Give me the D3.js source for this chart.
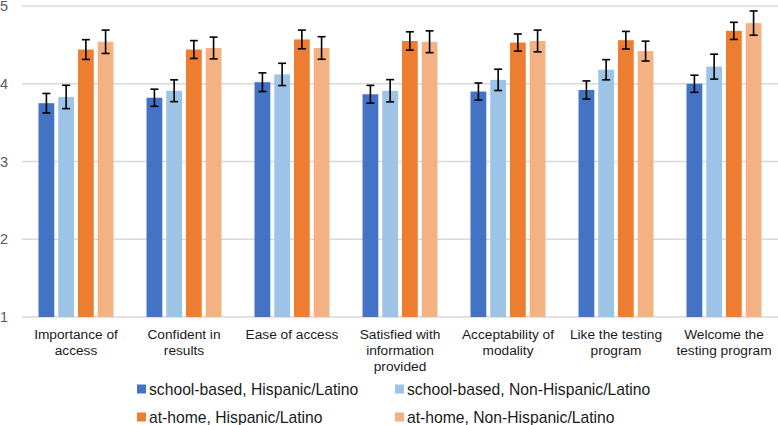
<!DOCTYPE html>
<html>
<head>
<style>
  body { margin: 0; background: #fff; }
  svg { font-family: "Liberation Sans", Arial, sans-serif; }
</style>
</head>
<body>
<svg></svg>
<script src="https://d3js.org/d3.v7.min.js"></script>
<script>
const categories = ["Importance of access", "Confident in results", "Ease of access",
  "Satisfied with information provided", "Acceptability of modality",
  "Like the testing program", "Welcome the testing program"];
const labelLines = [["Importance of", "access"], ["Confident in", "results"], ["Ease of access"],
  ["Satisfied with", "information", "provided"], ["Acceptability of", "modality"],
  ["Like the testing", "program"], ["Welcome the", "testing program"]];
const seriesNames = ["school-based, Hispanic/Latino", "school-based, Non-Hispanic/Latino",
  "at-home, Hispanic/Latino", "at-home, Non-Hispanic/Latino"];
const colors = ["#4472c4", "#9dc3e6", "#ed7d31", "#f4b183"];

const schoolHisp = [3.75, 3.82, 4.02, 3.865, 3.90, 3.92, 4.00];
const schoolNonHisp = [3.83, 3.91, 4.12, 3.91, 4.05, 4.18, 4.22];
const homeHisp = [4.44, 4.44, 4.57, 4.55, 4.53, 4.56, 4.68];
const homeNonHisp = [4.54, 4.46, 4.46, 4.54, 4.55, 4.42, 4.78];

const errSchoolHisp = [0.125, 0.11, 0.12, 0.114, 0.11, 0.116, 0.11];
const errSchoolNonHisp = [0.15, 0.14, 0.143, 0.143, 0.137, 0.13, 0.16];
const errHomeHisp = [0.127, 0.115, 0.12, 0.118, 0.11, 0.113, 0.11];
const errHomeNonHisp = [0.15, 0.14, 0.145, 0.14, 0.14, 0.128, 0.156];

const yTicks = [1, 2, 3, 4, 5];

const values = [schoolHisp, schoolNonHisp, homeHisp, homeNonHisp];
const errors = [errSchoolHisp, errSchoolNonHisp, errHomeHisp, errHomeNonHisp];

const W = 778, H = 425;
const margin = {left: 22, right: 0, top: 6, bottom: 108};

const svg = d3.select("svg").attr("width", W).attr("height", H);

const x = d3.scaleBand().domain(categories).range([margin.left, W - margin.right]);
const inner = d3.scaleBand().domain(d3.range(4))
  .range([x.bandwidth() * 0.153, x.bandwidth() * 0.847]).paddingInner(0.2);
const y = d3.scaleLinear().domain([1, 5]).range([H - margin.bottom, margin.top]);

// grid
svg.append("g").selectAll("line").data(yTicks).enter().append("line")
  .attr("x1", margin.left).attr("x2", W - margin.right)
  .attr("y1", d => y(d)).attr("y2", d => y(d))
  .attr("stroke", "#d9d9d9").attr("stroke-width", 1.3);

svg.append("g").selectAll("text").data(yTicks).enter().append("text")
  .attr("x", 8).attr("y", d => y(d)).attr("dy", "0.35em")
  .attr("text-anchor", "end").attr("font-size", 14.5).attr("fill", "#595959")
  .text(d => d);

const groups = svg.append("g").selectAll("g").data(categories).enter().append("g")
  .attr("transform", d => "translate(" + x(d) + ",0)");

groups.each(function(cat, ci) {
  const g = d3.select(this);
  for (let s = 0; s < 4; s++) {
    const v = values[s][ci], e = errors[s][ci];
    const bx = inner(s), bw = inner.bandwidth();
    g.append("rect")
      .attr("x", bx).attr("y", y(v))
      .attr("width", bw).attr("height", y(1) - y(v))
      .attr("fill", colors[s]);
    const cx = bx + bw / 2;
    g.append("line").attr("x1", cx).attr("x2", cx)
      .attr("y1", y(v + e)).attr("y2", y(v - e))
      .attr("stroke", "#000").attr("stroke-width", 1.6);
    [v + e, v - e].forEach(t => {
      g.append("line").attr("x1", cx - 4).attr("x2", cx + 4)
        .attr("y1", y(t)).attr("y2", y(t))
        .attr("stroke", "#000").attr("stroke-width", 1.6);
    });
  }
  const t = g.append("text").attr("text-anchor", "middle")
    .attr("font-size", 13.7).attr("fill", "#1a1a1a");
  labelLines[ci].forEach((line, li) => {
    t.append("tspan").attr("x", x.bandwidth() / 2).attr("y", 339 + li * 16).text(line);
  });
});

// legend
const legendPos = [[137, 389], [395, 389], [137, 417], [395, 417]];
const legend = svg.append("g").selectAll("g").data(seriesNames).enter().append("g")
  .attr("transform", (d, i) => "translate(" + legendPos[i][0] + "," + legendPos[i][1] + ")");
legend.append("rect").attr("x", 0).attr("y", -4.5).attr("width", 9).attr("height", 9)
  .attr("fill", (d, i) => colors[i]);
legend.append("text").attr("x", 12).attr("dy", "0.35em")
  .attr("font-size", 15.7).attr("fill", "#1a1a1a").text(d => d);
</script>
</body>
</html>
